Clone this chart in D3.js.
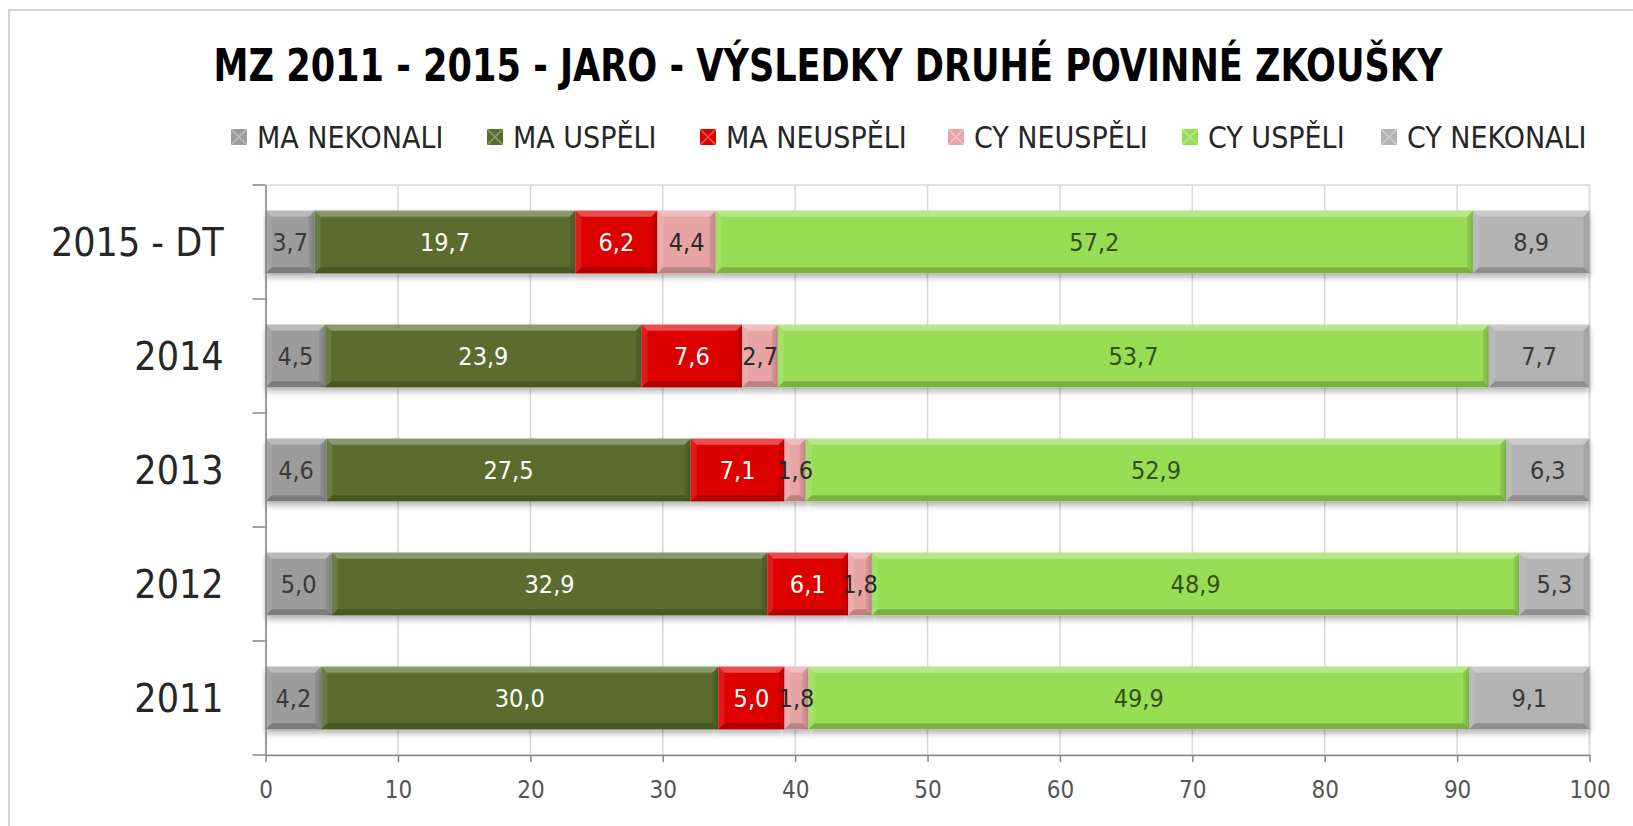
<!DOCTYPE html>
<meta charset="utf-8">
<script src="https://cdn.jsdelivr.net/npm/d3@7/dist/d3.min.js"></script>
<style>
  body { margin: 0; background: #fff; }
  text { font-family: "DejaVu Sans Condensed", "Liberation Sans Narrow", sans-serif; }
</style>
<body>
<script>

var width = 1633
var height = 826

// data
var years = ["2015 - DT", "2014", "2013", "2012", "2011"]
var seriesNames = ["MA NEKONALI", "MA USPĚLI", "MA NEUSPĚLI", "CY NEUSPĚLI", "CY USPĚLI", "CY NEKONALI"]
var maNekonali = [3.7, 4.5, 4.6, 5.0, 4.2]
var maUspeli   = [19.7, 23.9, 27.5, 32.9, 30.0]
var maNeuspeli = [6.2, 7.6, 7.1, 6.1, 5.0]
var cyNeuspeli = [4.4, 2.7, 1.6, 1.8, 1.8]
var cyUspeli   = [57.2, 53.7, 52.9, 48.9, 49.9]
var cyNekonali = [8.9, 7.7, 6.3, 5.3, 9.1]
var xTicks = [0, 10, 20, 30, 40, 50, 60, 70, 80, 90, 100]

var seriesValues = [maNekonali, maUspeli, maNeuspeli, cyNeuspeli, cyUspeli, cyNekonali]
var colors = ["#9c9c9c", "#5a6d2e", "#dd0000", "#e8a4a4", "#99dd55", "#b3b3b3"]
var labelColors = ["#3a3a3a", "#ffffff", "#ffffff", "#2a2a2a", "#34501a", "#3a3a3a"]

var table = years.map(function(y, i) {
  var row = { year: y }
  seriesNames.forEach(function(s, j) { row[s] = seriesValues[j][i] })
  return row
})
var stacked = d3.stack().keys(seriesNames)(table)

var x = d3.scaleLinear().domain([0, 100]).range([265.6, 1589.5]).clamp(true)
var y = d3.scaleBand().domain(years).range([185, 755]).paddingInner(0.45).paddingOuter(0.225)

var svg = d3.select("body").append("svg")
            .attr("width", width)
            .attr("height", height)

var defs = svg.append("defs")
defs.append("filter").attr("id", "shadow")
    .attr("x", "-5%").attr("y", "-20%").attr("width", "110%").attr("height", "160%")
    .append("feDropShadow")
    .attr("dx", 0).attr("dy", 4).attr("stdDeviation", 3)
    .attr("flood-color", "#000").attr("flood-opacity", 0.3)

// outer border
svg.append("rect")
   .attr("x", 9).attr("y", 10)
   .attr("width", width + 20).attr("height", height + 20)
   .attr("fill", "none").attr("stroke", "#d4d4d4").attr("stroke-width", 2)

// title
svg.append("text")
   .attr("x", 828).attr("y", 81)
   .attr("text-anchor", "middle")
   .attr("textLength", 1229).attr("lengthAdjust", "spacingAndGlyphs")
   .style("font-size", "44px").style("font-weight", "bold").style("fill", "#000")
   .text("MZ 2011 - 2015 - JARO - VÝSLEDKY DRUHÉ POVINNÉ ZKOUŠKY")

// legend
var legendX = [231, 487, 700, 948, 1182, 1381]
var legend = svg.append("g").selectAll("g").data(seriesNames).enter().append("g")
    .attr("transform", function(d, i) { return "translate(" + legendX[i] + ",129)" })
legend.append("rect").attr("width", 16).attr("height", 16)
      .attr("fill", function(d, i) { return colors[i] })
legend.append("path").attr("d", "M0,0L16,16M16,0L0,16")
      .attr("stroke", "#fff").attr("stroke-opacity", 0.35).attr("stroke-width", 1.5)
legend.append("text").attr("x", 26).attr("y", 19)
      .style("font-size", "30px").style("fill", "#262626")
      .text(function(d) { return d })

// plot frame + grid
svg.append("rect")
   .attr("x", x(0)).attr("y", 185)
   .attr("width", x(100) - x(0)).attr("height", 570)
   .attr("fill", "none").attr("stroke", "#d9d9d9").attr("stroke-width", 1.5)

svg.append("g").selectAll("line").data(xTicks.slice(1)).enter().append("line")
   .attr("x1", function(d) { return x(d) }).attr("x2", function(d) { return x(d) })
   .attr("y1", 185).attr("y2", 755)
   .attr("stroke", "#d9d9d9").attr("stroke-width", 1.5)

// bars
var b = 6
var bars = svg.append("g")
var labels = svg.append("g")

stacked.forEach(function(layer, j) {
  var g = bars.append("g")
  layer.forEach(function(d) {
    var x0 = x(d[0]), x1 = x(d[1]), y0 = y(d.data.year), h = y.bandwidth(), y1 = y0 + h
    if (x1 - x0 <= 0) return
    var bb = Math.min(b, (x1 - x0) / 2)
    var seg = g.append("g")
    seg.append("rect").attr("x", x0).attr("y", y0).attr("width", x1 - x0).attr("height", h)
       .attr("fill", colors[j]).attr("filter", "url(#shadow)")
    // bevel
    seg.append("polygon").attr("points", [[x0, y0], [x1, y0], [x1 - bb, y0 + b], [x0 + bb, y0 + b]].join(" "))
       .attr("fill", "#fff").attr("fill-opacity", 0.3)
    seg.append("polygon").attr("points", [[x0, y1], [x1, y1], [x1 - bb, y1 - b], [x0 + bb, y1 - b]].join(" "))
       .attr("fill", "#000").attr("fill-opacity", 0.2)
    seg.append("polygon").attr("points", [[x0, y0], [x0 + bb, y0 + b], [x0 + bb, y1 - b], [x0, y1]].join(" "))
       .attr("fill", "#fff").attr("fill-opacity", 0.1)
    seg.append("polygon").attr("points", [[x1, y0], [x1 - bb, y0 + b], [x1 - bb, y1 - b], [x1, y1]].join(" "))
       .attr("fill", "#000").attr("fill-opacity", 0.08)
    labels.append("text")
       .attr("x", (x0 + x1) / 2).attr("y", y0 + h / 2).attr("dy", "0.36em")
       .attr("text-anchor", "middle")
       .style("font-size", "25px").style("fill", labelColors[j])
       .text(d3.format(".1f")(d.data[layer.key]).replace(".", ","))
  })
})

// y axis
var yAxis = svg.append("g")
    .attr("transform", "translate(" + x(0) + ",0)")
    .call(d3.axisLeft(y).tickSize(0).tickPadding(42))
yAxis.select(".domain").attr("stroke", "#868686").attr("stroke-width", 1.5)
yAxis.selectAll("text").style("font-size", "39px").style("fill", "#262626").attr("dy", "0.36em")

var bounds = years.map(function(d) { return y(d) - (y.step() - y.bandwidth()) / 2 }).concat([755])
svg.append("g").selectAll("line").data(bounds).enter().append("line")
   .attr("x1", x(0) - 13).attr("x2", x(0))
   .attr("y1", function(d) { return d }).attr("y2", function(d) { return d })
   .attr("stroke", "#868686").attr("stroke-width", 1.5)

// x axis
var xAxis = svg.append("g")
    .attr("transform", "translate(0,755)")
    .call(d3.axisBottom(x).tickValues(xTicks).tickSize(7).tickPadding(19).tickSizeOuter(0))
xAxis.select(".domain").attr("stroke", "#868686").attr("stroke-width", 1.5)
xAxis.selectAll("line").attr("stroke", "#868686").attr("stroke-width", 1.5)
xAxis.selectAll("text").style("font-size", "24px").style("fill", "#555")

</script>
</body>
